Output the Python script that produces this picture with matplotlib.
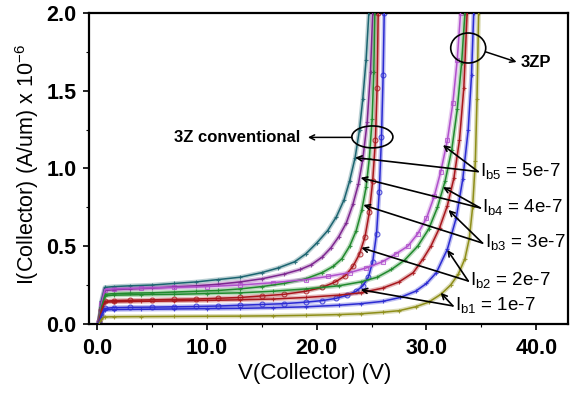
import matplotlib
matplotlib.use("Agg")
import matplotlib.pyplot as plt
from matplotlib.patches import Ellipse

plt.rcParams['font.family'] = ['Liberation Sans', 'DejaVu Sans']
plt.rcParams['mathtext.fontset'] = 'custom'
plt.rcParams['mathtext.rm'] = 'Liberation Sans'

# ---- collector current curves (V in volts, I in A/um x 1e-6) ----
# 3Z conventional device
conv_ib5_v = [0.2, 0.4, 0.7, 1.5, 3, 5, 7, 9, 11, 13, 15, 16.5, 18, 19, 20, 21, 21.8, 22.5, 23.0, 23.5, 23.9, 24.2, 24.5, 24.75]
conv_ib5_i = [0.02, 0.15, 0.235, 0.24, 0.245, 0.25, 0.26, 0.27, 0.285, 0.30, 0.33, 0.36, 0.40, 0.45, 0.52, 0.60, 0.69, 0.80, 0.92, 1.07, 1.25, 1.45, 1.70, 2.0]
conv_ib4_v = [0.2, 0.4, 0.7, 1.5, 3, 5, 7, 9, 11, 13, 15, 17, 18.5, 19.5, 20.5, 21.3, 22.0, 22.7, 23.3, 23.8, 24.2, 24.6, 24.9, 25.1]
conv_ib4_i = [0.02, 0.13, 0.215, 0.22, 0.225, 0.23, 0.238, 0.245, 0.255, 0.27, 0.29, 0.32, 0.35, 0.38, 0.43, 0.49, 0.56, 0.65, 0.77, 0.90, 1.06, 1.30, 1.62, 2.0]
conv_ib3_v = [0.2, 0.4, 0.7, 1.5, 3, 5, 7, 9, 11, 13, 15, 17, 19, 20.5, 21.5, 22.3, 23.0, 23.6, 24.1, 24.5, 24.8, 25.05, 25.2, 25.3]
conv_ib3_i = [0.02, 0.11, 0.19, 0.195, 0.198, 0.2, 0.205, 0.21, 0.215, 0.225, 0.24, 0.26, 0.29, 0.33, 0.37, 0.42, 0.50, 0.60, 0.73, 0.88, 1.07, 1.32, 1.62, 2.0]
conv_ib2_v = [0.2, 0.4, 0.7, 1.5, 3, 5, 7, 9, 11, 13, 15, 17, 19, 20.5, 21.7, 22.6, 23.3, 23.9, 24.4, 24.8, 25.1, 25.35, 25.5, 25.6]
conv_ib2_i = [0.02, 0.09, 0.145, 0.15, 0.152, 0.155, 0.158, 0.16, 0.165, 0.17, 0.18, 0.19, 0.21, 0.235, 0.27, 0.31, 0.37, 0.45, 0.56, 0.72, 0.92, 1.18, 1.52, 2.0]
conv_ib1_v = [0.2, 0.4, 0.7, 1.5, 3, 5, 7, 9, 11, 13, 15, 17, 19, 20.5, 21.8, 22.8, 23.6, 24.2, 24.7, 25.1, 25.45, 25.7, 25.9, 26.05, 26.15]
conv_ib1_i = [0.01, 0.06, 0.10, 0.105, 0.107, 0.108, 0.11, 0.112, 0.115, 0.12, 0.125, 0.13, 0.14, 0.15, 0.165, 0.185, 0.21, 0.245, 0.30, 0.40, 0.58, 0.85, 1.2, 1.6, 2.0]

# 3ZP device
zp_ib5_v = [0.2, 0.4, 0.7, 1.5, 4, 7, 10, 13, 16, 19, 21, 23, 24.5, 26, 27.2, 28.3, 29.2, 30.0, 30.7, 31.3, 31.9, 32.4, 32.8, 33.1]
zp_ib5_i = [0.02, 0.13, 0.22, 0.225, 0.23, 0.235, 0.24, 0.25, 0.265, 0.285, 0.305, 0.33, 0.36, 0.40, 0.45, 0.50, 0.58, 0.68, 0.82, 0.98, 1.18, 1.42, 1.70, 2.0]
zp_ib4_v = [0.2, 0.4, 0.7, 1.5, 4, 7, 10, 13, 16, 19, 22, 24, 25.5, 26.8, 28.0, 29.2, 30.2, 31.0, 31.7, 32.3, 32.8, 33.2, 33.5]
zp_ib4_i = [0.02, 0.11, 0.18, 0.185, 0.188, 0.19, 0.195, 0.2, 0.21, 0.225, 0.245, 0.27, 0.30, 0.35, 0.41, 0.50, 0.61, 0.75, 0.92, 1.12, 1.38, 1.68, 2.0]
zp_ib3_v = [0.2, 0.4, 0.7, 1.5, 4, 7, 10, 13, 16, 19, 22, 24, 26, 27.5, 28.8, 29.7, 30.4, 31.2, 31.9, 32.5, 33.0, 33.4, 33.7]
zp_ib3_i = [0.02, 0.09, 0.14, 0.142, 0.145, 0.148, 0.151, 0.155, 0.16, 0.17, 0.185, 0.20, 0.23, 0.27, 0.33, 0.42, 0.50, 0.62, 0.76, 0.94, 1.18, 1.52, 2.0]
zp_ib2_v = [0.2, 0.4, 0.7, 1.5, 4, 7, 10, 13, 16, 19, 22, 24, 26, 27.6, 29.0, 30.0, 30.9, 31.9, 32.7, 33.3, 33.8, 34.1, 34.3]
zp_ib2_i = [0.01, 0.06, 0.09, 0.092, 0.094, 0.096, 0.098, 0.10, 0.104, 0.11, 0.12, 0.13, 0.145, 0.17, 0.21, 0.26, 0.33, 0.48, 0.68, 0.93, 1.25, 1.6, 2.0]
zp_ib1_v = [0.2, 0.4, 0.7, 1.5, 4, 7, 10, 13, 16, 19, 22, 24, 26, 27.5, 29, 30.2, 31.3, 32.2, 32.9, 33.5, 33.9, 34.2, 34.45, 34.6, 34.75]
zp_ib1_i = [0.005, 0.03, 0.045, 0.046, 0.047, 0.048, 0.049, 0.05, 0.052, 0.055, 0.06, 0.065, 0.075, 0.085, 0.11, 0.14, 0.19, 0.25, 0.32, 0.42, 0.55, 0.75, 1.05, 1.45, 2.0]

x_ticks = [0, 10, 20, 30, 40]
x_tick_labels = ["0.0", "10.0", "20.0", "30.0", "40.0"]
y_ticks = [0.0, 0.5, 1.0, 1.5, 2.0]
y_tick_labels = ["0.0", "0.5", "1.0", "1.5", "2.0"]

ib_labels = [r"I$_{\mathrm{b5}}$ = 5e-7", r"I$_{\mathrm{b4}}$ = 4e-7", r"I$_{\mathrm{b3}}$ = 3e-7",
             r"I$_{\mathrm{b2}}$ = 2e-7", r"I$_{\mathrm{b1}}$ = 1e-7"]

TEAL = "#1b6470"
PURPLE = "#7d2690"
VIOLET = "#b050cc"
GREEN = "#218a2e"
RED = "#a8161c"
BLUE = "#2b2bd2"
OLIVE = "#8e8e18"

fig = plt.figure(figsize=(5.71, 3.95), dpi=100)
ax = fig.add_axes([0.156, 0.180, 0.839, 0.787])

curves = [
    (conv_ib5_v, conv_ib5_i, TEAL, "+"),
    (conv_ib4_v, conv_ib4_i, PURPLE, "+"),
    (conv_ib3_v, conv_ib3_i, GREEN, "+"),
    (conv_ib2_v, conv_ib2_i, RED, "o"),
    (conv_ib1_v, conv_ib1_i, BLUE, "o"),
    (zp_ib5_v, zp_ib5_i, VIOLET, "s"),
    (zp_ib4_v, zp_ib4_i, GREEN, "+"),
    (zp_ib3_v, zp_ib3_i, RED, "+"),
    (zp_ib2_v, zp_ib2_i, BLUE, "+"),
    (zp_ib1_v, zp_ib1_i, OLIVE, "+"),
]
for v, i, c, m in curves:
    # soft band where the measured symbols sit, then the simulated line on top
    ax.plot(v, i, color=c, lw=3.2, alpha=0.3, solid_capstyle="butt", zorder=2)
    ax.plot(v, i, ls="none", marker=m, ms=3.5, mfc="none", mec=c, mew=0.8, alpha=0.8, zorder=2)
    ax.plot(v, i, color=c, lw=1.1, zorder=3)

ax.set_xlim(-0.73, 42.9)
ax.set_ylim(0, 2.0)
ax.set_xticks(x_ticks)
ax.set_xticklabels(x_tick_labels)
ax.set_yticks(y_ticks)
ax.set_yticklabels(y_tick_labels)
ax.set_yticks([0.25, 0.75, 1.25, 1.75], minor=True)
ax.set_xticks([5, 15, 25, 35], minor=True)
ax.tick_params(which="major", direction="out", length=4, width=1.2, labelsize=15.5)
ax.tick_params(axis="x", which="major", pad=6)
ax.tick_params(axis="y", which="major", pad=5)
ax.tick_params(which="minor", direction="out", length=2.5, width=0.8)
for lab in ax.get_xticklabels() + ax.get_yticklabels():
    lab.set_fontweight("bold")
for s in ax.spines.values():
    s.set_linewidth(1.6)

ax.set_xlabel("V(Collector) (V)", fontsize=16)
ax.xaxis.set_label_coords(0.47, -0.125)
ax.set_ylabel(r"I(Collector) (A/um) x 10$^{\mathrm{-6}}$", fontsize=15.5)
ax.yaxis.set_label_coords(-0.1, 0.514)

# Ib annotations: (label anchor, conventional arrow tip, 3ZP arrow tip)
ann = [
    ((34.7, 0.98), (23.5, 1.07), (31.5, 1.15)),
    ((34.9, 0.746), (24.0, 0.94), (31.5, 0.88)),
    ((35.1, 0.52), (24.25, 0.765), (32.0, 0.733)),
    ((33.8, 0.276), (24.07, 0.49), (31.9, 0.476)),
    ((32.4, 0.116), (24.0, 0.22), (31.3, 0.20)),
]
for label, (anchor, tip_c, tip_z) in zip(ib_labels, ann):
    for tip in (tip_c, tip_z):
        ax.annotate("", xy=tip, xytext=anchor,
                    arrowprops=dict(arrowstyle="->", color="black", lw=1.2,
                                    shrinkA=0, shrinkB=0, mutation_scale=9), zorder=5)
    ax.text(anchor[0] + 0.2, anchor[1], label, fontsize=13.5, ha="left", va="center", zorder=6)

# device group markers
ax.add_patch(Ellipse((25.07, 1.203), 3.74, 0.141, fill=False, ec="black", lw=1.2, zorder=5))
ax.annotate("", xy=(19.2, 1.2), xytext=(23.2, 1.2),
            arrowprops=dict(arrowstyle="->", color="black", lw=1.1, shrinkA=0, shrinkB=0, mutation_scale=9))
ax.text(18.5, 1.2, "3Z conventional", fontsize=12, fontweight="bold", ha="right", va="center")

ax.add_patch(Ellipse((33.8, 1.775), 3.19, 0.193, fill=False, ec="black", lw=1.2, zorder=5))
ax.annotate("", xy=(38.2, 1.685), xytext=(35.4, 1.75),
            arrowprops=dict(arrowstyle="->", color="black", lw=1.1, shrinkA=0, shrinkB=0, mutation_scale=9))
ax.text(38.6, 1.68, "3ZP", fontsize=12, fontweight="bold", ha="left", va="center")

fig.savefig("out.png", dpi=100)
